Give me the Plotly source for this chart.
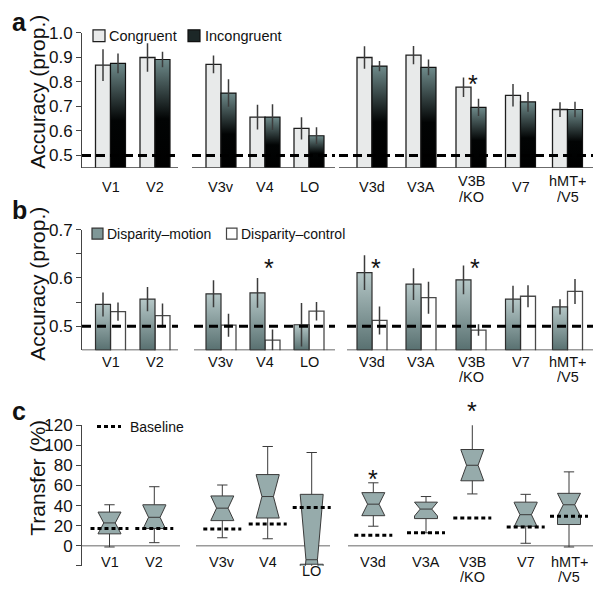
import plotly.graph_objects as go

# ---------------- data ----------------
regions = ["V1", "V2", "V3v", "V4", "LO", "V3d", "V3A", "V3B<br>/KO", "V7", "hMT+<br>/V5"]

# panel a : accuracy (prop.)
congruent = [0.868, 0.899, 0.871, 0.656, 0.610, 0.899, 0.909, 0.778, 0.745, 0.687]
congruent_err = [0.065, 0.058, 0.036, 0.050, 0.045, 0.046, 0.037, 0.040, 0.046, 0.030]
incongruent = [0.875, 0.891, 0.754, 0.656, 0.580, 0.864, 0.859, 0.696, 0.718, 0.687]
incongruent_err = [0.040, 0.032, 0.056, 0.052, 0.035, 0.021, 0.032, 0.035, 0.040, 0.032]
sig_a = ["V3B<br>/KO"]

# panel b : accuracy (prop.)
disp_motion = [0.545, 0.556, 0.567, 0.569, 0.503, 0.611, 0.587, 0.596, 0.556, 0.540]
disp_motion_err = [0.025, 0.025, 0.028, 0.031, 0.045, 0.036, 0.033, 0.030, 0.028, 0.016]
disp_control = [0.530, 0.522, 0.502, 0.471, 0.531, 0.512, 0.559, 0.492, 0.562, 0.572]
disp_control_err = [0.019, 0.025, 0.024, 0.022, 0.019, 0.029, 0.033, 0.012, 0.023, 0.026]
sig_b = ["V4", "V3d", "V3B<br>/KO"]

# panel c : transfer (%)
t_q1 = [11.8, 17.1, 25.0, 27.6, -18.5, 29.9, 27.0, 64.7, 19.4, 21.1]
t_median = [22.7, 28.3, 37.4, 49.0, -14.0, 41.4, 36.5, 80.2, 30.9, 40.8]
t_q3 = [33.5, 40.8, 49.6, 70.9, 51.2, 52.9, 43.4, 95.9, 43.4, 52.2]
t_notch = [10.8, 12.0, 12.2, 21.5, 65.2, 11.5, 6.9, 15.6, 12.0, 11.4]
t_low = [-1.3, 3.0, 7.9, 6.9, -18.5, 19.4, 12.8, 51.6, 2.4, -1.3]
t_high = [40.8, 58.8, 60.5, 98.9, 92.9, 62.7, 49.0, 130.0, 51.2, 73.6]
t_baseline = [17.1, 17.1, 16.7, 21.7, 38.1, 10.5, 12.8, 27.6, 18.7, 29.3]
sig_c = ["V3d", "V3B<br>/KO"]

yticks_a = [0.5, 0.6, 0.7, 0.8, 0.9, 1.0]
yticks_b = [0.5, 0.55, 0.6, 0.65, 0.7]
yticklabels_b = ["0.5", "", "0.6", "", "0.7"]
yticks_c = [-20, 0, 20, 40, 60, 80, 100, 120]
yticklabels_c = ["", "0", "20", "40", "60", "80", "100", "120"]

# ---------------- layout helpers ----------------
# The page body keeps the browser's default 8px margin, so the figure starts 8px in
# from the window corner; size and place everything to compensate.
OFF = 8
W, H = 601 - OFF, 594 - OFF
def px(x):
    return (x - OFF) / W
def py(y):
    return 1 - (y - OFF) / H

X0, X1 = 82, 596
pos_ab = [110.5, 155, 221, 265, 309, 372, 421, 471, 520.5, 567.5]
pos_c = [109.5, 154.3, 222.3, 267.7, 311.7, 373.3, 426, 472.3, 525.7, 569]
BW = 15
RANGE_A = [0.45, 1.0]
RANGE_B = [0.45, 0.7]
RANGE_C = [-20, 120]
DOM_A = [py(161), py(24)]
DOM_B = [py(346.5), py(224)]
DOM_C = [py(565.3), py(422.7)]
FONT = "Liberation Sans, Arial, Helvetica, sans-serif"
INK = "#1e1e1e"

def to_paper_y(v, rng, dom):
    return dom[0] + (v - rng[0]) / (rng[1] - rng[0]) * (dom[1] - dom[0])

fig = go.Figure()

# ---------------- panel a ----------------
fig.add_trace(go.Bar(
    x=pos_ab, y=congruent, width=BW, offset=-BW,
    marker=dict(color="#e8eaea", line=dict(color=INK, width=1.3)),
    xaxis="x", yaxis="y", showlegend=False, hoverinfo="skip"))
for c, v in zip(pos_ab, incongruent):
    fig.add_trace(go.Scatter(
        x=[c, c + BW, c + BW, c, c], y=[RANGE_A[0], RANGE_A[0], v, v, RANGE_A[0]],
        mode="lines", fill="toself",
        fillgradient=dict(type="vertical",
                          colorscale=[[0, "#000000"], [0.45, "#020404"], [1, "#6f8b8b"]]),
        line=dict(color="#111111", width=1.2),
        xaxis="x", yaxis="y", showlegend=False, hoverinfo="skip"))
fig.add_trace(go.Scatter(
    x=[c - BW / 2 for c in pos_ab] + [c + BW / 2 for c in pos_ab],
    y=congruent + incongruent, mode="markers",
    marker=dict(size=1, color="rgba(0,0,0,0)"),
    error_y=dict(type="data", array=congruent_err + incongruent_err,
                 width=0, thickness=1.5, color="#3c3c3c"),
    xaxis="x", yaxis="y", showlegend=False, hoverinfo="skip"))

# ---------------- panel b ----------------
for c, v in zip(pos_ab, disp_motion):
    fig.add_trace(go.Scatter(
        x=[c - BW, c, c, c - BW, c - BW], y=[RANGE_B[0], RANGE_B[0], v, v, RANGE_B[0]],
        mode="lines", fill="toself",
        fillgradient=dict(type="vertical",
                          colorscale=[[0, "#587070"], [1, "#b5c7c7"]]),
        line=dict(color="#2e2e2e", width=1.2),
        xaxis="x2", yaxis="y2", showlegend=False, hoverinfo="skip"))
fig.add_trace(go.Bar(
    x=pos_ab, y=disp_control, width=BW, offset=0,
    marker=dict(color="white", line=dict(color="#4a4a4a", width=1.3)),
    xaxis="x2", yaxis="y2", showlegend=False, hoverinfo="skip"))
fig.add_trace(go.Scatter(
    x=[c - BW / 2 for c in pos_ab] + [c + BW / 2 for c in pos_ab],
    y=disp_motion + disp_control, mode="markers",
    marker=dict(size=1, color="rgba(0,0,0,0)"),
    error_y=dict(type="data", array=disp_motion_err + disp_control_err,
                 width=0, thickness=1.5, color="#3c3c3c"),
    xaxis="x2", yaxis="y2", showlegend=False, hoverinfo="skip"))

# ---------------- panel c ----------------
fig.add_trace(go.Box(
    x=pos_c, q1=t_q1, median=t_median, q3=t_q3,
    lowerfence=t_low, upperfence=t_high, notchspan=t_notch,
    notched=True, notchwidth=0.25, width=23, whiskerwidth=0.45,
    boxpoints=False, fillcolor="#96abab",
    line=dict(color="#3a3a3a", width=1),
    xaxis="x3", yaxis="y3", showlegend=False, hoverinfo="skip"))
bx, by = [], []
for c, b in zip(pos_c, t_baseline):
    bx += [c - 19, c + 19, None]
    by += [b, b, None]
fig.add_trace(go.Scatter(
    x=bx, y=by, mode="lines",
    line=dict(color="black", width=3, dash="4px,3px"),
    xaxis="x3", yaxis="y3", showlegend=False, hoverinfo="skip"))

# ---------------- shapes: axis segments, chance lines, legends ----------------
shapes = []
groups_a = [(82, 178), (192, 335), (339, 593)]
groups_b = [(82, 178), (194, 335), (347, 593)]
groups_c = [(82, 180), (196, 330), (348, 594)]
for (a, b) in groups_a:
    shapes.append(dict(type="line", xref="x", yref="y", x0=a, x1=b, y0=RANGE_A[0], y1=RANGE_A[0],
                       line=dict(color="#3a3a3a", width=1.4)))
    shapes.append(dict(type="line", xref="x", yref="y", x0=a, x1=b, y0=0.5, y1=0.5,
                       line=dict(color="black", width=3, dash="9px,5px")))
for (a, b) in groups_b:
    shapes.append(dict(type="line", xref="x2", yref="y2", x0=a, x1=b, y0=RANGE_B[0], y1=RANGE_B[0],
                       line=dict(color="#3a3a3a", width=1.4)))
    shapes.append(dict(type="line", xref="x2", yref="y2", x0=a, x1=b, y0=0.5, y1=0.5,
                       line=dict(color="black", width=3, dash="9px,6px")))
for (a, b) in groups_c:
    shapes.append(dict(type="line", xref="x3", yref="y3", x0=a, x1=b, y0=0, y1=0,
                       line=dict(color="#9a9a9a", width=1.5), layer="below"))

def rect(x0, x1, y0, y1, fill, line):
    return dict(type="rect", xref="paper", yref="paper", x0=px(x0), x1=px(x1),
                y0=py(y1), y1=py(y0), fillcolor=fill, line=dict(color=line, width=1.2))

shapes.append(rect(93, 105, 21, 33, "#e9eaea", INK))
shapes.append(rect(188, 200, 21, 33, "#1c2727", "#111111"))
shapes.append(rect(92, 103, 222.5, 233.5, "#7f9797", "#333333"))
shapes.append(rect(226.5, 237, 222.5, 233.5, "white", "#444444"))
shapes.append(dict(type="line", xref="paper", yref="paper", x0=px(97), x1=px(121),
                   y0=py(424), y1=py(424), line=dict(color="black", width=3, dash="4px,3px")))

# ---------------- annotations ----------------
ann = []
def text(x, y, s, size=14, xanchor="left", yanchor="middle", bold=False, angle=0):
    ann.append(dict(xref="paper", yref="paper", x=px(x), y=py(y), text=("<b>%s</b>" % s) if bold else s,
                    showarrow=False, xanchor=xanchor, yanchor=yanchor, textangle=angle,
                    font=dict(size=size, color="#111111", family=FONT)))

# panel letters
text(10, 13, "a", size=25, bold=True)
text(10, 204, "b", size=25, bold=True)
text(10, 408, "c", size=25, bold=True)

# y-axis titles
text(38, 84, "Accuracy (prop.)", size=21, xanchor="center", angle=-90)
text(38, 279, "Accuracy (prop.)", size=21, xanchor="center", angle=-90)
text(38, 476, "Transfer (%)", size=21, xanchor="center", angle=-90)

# legends
text(107, 27, "Congruent", size=14.5)
text(203, 27, "Incongruent", size=14.5)
text(105, 228, "Disparity\u2013motion", size=14)
text(239, 228, "Disparity\u2013control", size=14)
text(128, 424, "Baseline", size=14)

# category labels
def cat_labels(positions, axis, y1, y2, single_y, extra=None):
    for name, x in zip(regions, positions):
        parts = name.split("<br>")
        if len(parts) == 1:
            lines = [(parts[0], single_y + (extra.get(name, 0) if extra else 0))]
        else:
            lines = list(zip(parts, (y1, y2)))
        for t, yy in lines:
            ann.append(dict(xref=axis, yref="paper", x=x, y=py(yy), text=t, showarrow=False,
                            xanchor="center", yanchor="middle", height=11,
                            font=dict(size=14.5, color="#111111", family=FONT)))

cat_labels(pos_ab, "x", 174.5, 190.5, 180)
cat_labels(pos_ab, "x2", 358, 373, 358)
cat_labels(pos_c, "x3", 561, 576, 561, extra={"LO": 9})

# significance stars
def star(axis_x, x, yp):
    ann.append(dict(xref=axis_x, yref="paper", x=x, y=yp, text="*", showarrow=False,
                    xanchor="center", yanchor="middle", yshift=-7,
                    font=dict(size=25, color="#111111", family=FONT)))

for name in sig_a:
    i = regions.index(name)
    star("x", pos_ab[i] + 2, to_paper_y(congruent[i] + congruent_err[i], RANGE_A, DOM_A))
for name in sig_b:
    i = regions.index(name)
    star("x2", pos_ab[i] + 4, to_paper_y(0.635, RANGE_B, DOM_B))
for name in sig_c:
    i = regions.index(name)
    star("x3", pos_c[i], to_paper_y(t_high[i] + 11, RANGE_C, DOM_C))

# ---------------- axes ----------------
xcommon = dict(domain=[px(X0), px(X1)], range=[X0, X1], visible=False, fixedrange=True)
ycommon = dict(showline=True, linecolor="#444444", linewidth=1, ticks="outside", ticklen=5,
               tickcolor="#444444", tickwidth=1, showgrid=False, zeroline=False, fixedrange=True,
               tickfont=dict(size=17, color="#111111", family=FONT))

fig.update_layout(
    width=W, height=H, autosize=False,
    margin=dict(l=0, r=0, t=0, b=0),
    paper_bgcolor="white", plot_bgcolor="white",
    showlegend=False,
    font=dict(family=FONT, color="#111111", size=14),
    xaxis=dict(**xcommon, anchor="y"),
    xaxis2=dict(**xcommon, anchor="y2"),
    xaxis3=dict(**xcommon, anchor="y3"),
    yaxis=dict(**ycommon, domain=DOM_A, range=RANGE_A, anchor="x",
               tickvals=yticks_a, ticktext=["%.1f" % v for v in yticks_a]),
    yaxis2=dict(**ycommon, domain=DOM_B, range=RANGE_B, anchor="x2",
                tickvals=yticks_b, ticktext=yticklabels_b),
    yaxis3=dict(**ycommon, domain=DOM_C, range=RANGE_C, anchor="x3",
                tickvals=yticks_c, ticktext=yticklabels_c),
    shapes=shapes,
    annotations=ann,
)

fig.write_html("out.html", config={"displayModeBar": False})
